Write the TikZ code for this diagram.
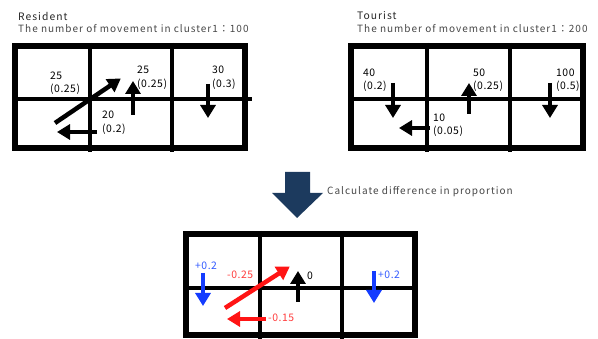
\documentclass[tikz,border=0pt]{standalone}
\usepackage{fontspec}
\setmainfont{Noto Sans CJK JP}[LetterSpace=10]
\newfontfamily\labfont{Noto Sans CJK JP}[LetterSpace=5]
\usetikzlibrary{arrows.meta}
\definecolor{navy}{RGB}{28,58,94}
\definecolor{myred}{RGB}{255,20,20}
\definecolor{myblue}{RGB}{20,60,255}
\definecolor{txtred}{RGB}{255,60,60}
\definecolor{txtblue}{RGB}{50,90,255}
\tikzset{
  outer/.style={line width=6pt},
  inner/.style={line width=4pt},
  mv/.style={line width=4.5pt,-{Triangle[length=13pt,width=15pt]}, shorten >=-1pt},
  title/.style={anchor=west,inner sep=0pt,font=\fontsize{10.3}{12}\selectfont,text=black!85},
  sub/.style={anchor=west,inner sep=0pt,font=\fontsize{10}{12}\selectfont,text=black!72},
  lab/.style={anchor=west,inner sep=0pt,align=left,font=\labfont\fontsize{10.4}{13.5}\selectfont},
}
\begin{document}
\begin{tikzpicture}[x=1pt,y=-1pt]
\useasboundingbox (0,0) rectangle (598,339);
% ---------- Resident ----------
\node[title] (rt) at (18,16) {Resident};
\node[sub] (rs) at (18,29) {The number of movement in cluster1：100};
\draw[inner] (90,43) -- (90,152);
\draw[inner] (172,43) -- (172,152);
\draw[inner] (12,99) -- (252,99);
\draw[outer] (15,46) rectangle (245,148);
\node[lab] (r1) at (50,83) {25\\(0.25)};
\node[lab] (r2) at (137,77.5) {25\\(0.25)};
\node[lab] (r3) at (212,77.5) {30\\(0.3)};
\node[lab] (r4) at (102,122.5) {20\\(0.2)};
\coordinate (ra1) at (55,123); \coordinate (ra2) at (120,79);
\coordinate (rb1) at (133,115); \coordinate (rb2) at (133,82);
\coordinate (rc1) at (208,84); \coordinate (rc2) at (208,117);
\coordinate (rd1) at (97,132); \coordinate (rd2) at (58,132);
\draw[mv] (ra1) -- (ra2);
\draw[mv] (rb1) -- (rb2);
\draw[mv] (rc1) -- (rc2);
\draw[mv] (rd1) -- (rd2);
% ---------- Tourist ----------
\node[title] (tt) at (357,16) {Tourist};
\node[sub] (ts) at (357,29) {The number of movement in cluster1：200};
\draw[inner] (427,43) -- (427,152);
\draw[inner] (510,43) -- (510,152);
\draw[inner] (348,99) -- (586,99);
\draw[outer] (351,46) rectangle (583,148);
\node[lab] (t1) at (363,80) {40\\(0.2)};
\node[lab] (t2) at (473,80) {50\\(0.25)};
\node[lab] (t3) at (556,80) {100\\(0.5)};
\node[lab] (t4) at (433,125) {10\\(0.05)};
\coordinate (ta1) at (393,83); \coordinate (ta2) at (393,117);
\coordinate (tb1) at (469,114); \coordinate (tb2) at (469,84);
\coordinate (tc1) at (550,83); \coordinate (tc2) at (550,117);
\coordinate (td1) at (430,128); \coordinate (td2) at (400,128);
\draw[mv] (ta1) -- (ta2);
\draw[mv] (tb1) -- (tb2);
\draw[mv] (tc1) -- (tc2);
\draw[mv] (td1) -- (td2);
% ---------- Big arrow ----------
\fill[navy] (285,172) -- (310,172) -- (310,193) -- (323,193) -- (297,218) -- (272,193) -- (285,193) -- cycle;
\node[sub] (calc) at (327,192) {Calculate difference in proportion};
% ---------- Difference ----------
\draw[inner] (260,231) -- (260,339);
\draw[inner] (342,231) -- (342,339);
\draw[inner] (183,288) -- (418,288);
\draw[outer] (186,234) rectangle (415,335);
\node[lab,text=txtblue] (d1) at (195,266) {+0.2};
\node[lab,text=txtred] (d2) at (227,275) {-0.25};
\node[lab] (d3) at (307,276) {0};
\node[lab,text=txtblue] (d4) at (378,275) {+0.2};
\node[lab,text=txtred] (d5) at (268,318) {-0.15};
\coordinate (da1) at (203,273); \coordinate (da2) at (203,305);
\coordinate (db1) at (225,308); \coordinate (db2) at (289,267);
\coordinate (dc1) at (298,302); \coordinate (dc2) at (298,272);
\coordinate (dd1) at (374,271); \coordinate (dd2) at (374,302);
\coordinate (de1) at (266,319); \coordinate (de2) at (228,319);
\draw[mv,myblue] (da1) -- (da2);
\draw[mv,myred] (db1) -- (db2);
\draw[mv] (dc1) -- (dc2);
\draw[mv,myblue] (dd1) -- (dd2);
\draw[mv,myred] (de1) -- (de2);
\end{tikzpicture}
\end{document}
